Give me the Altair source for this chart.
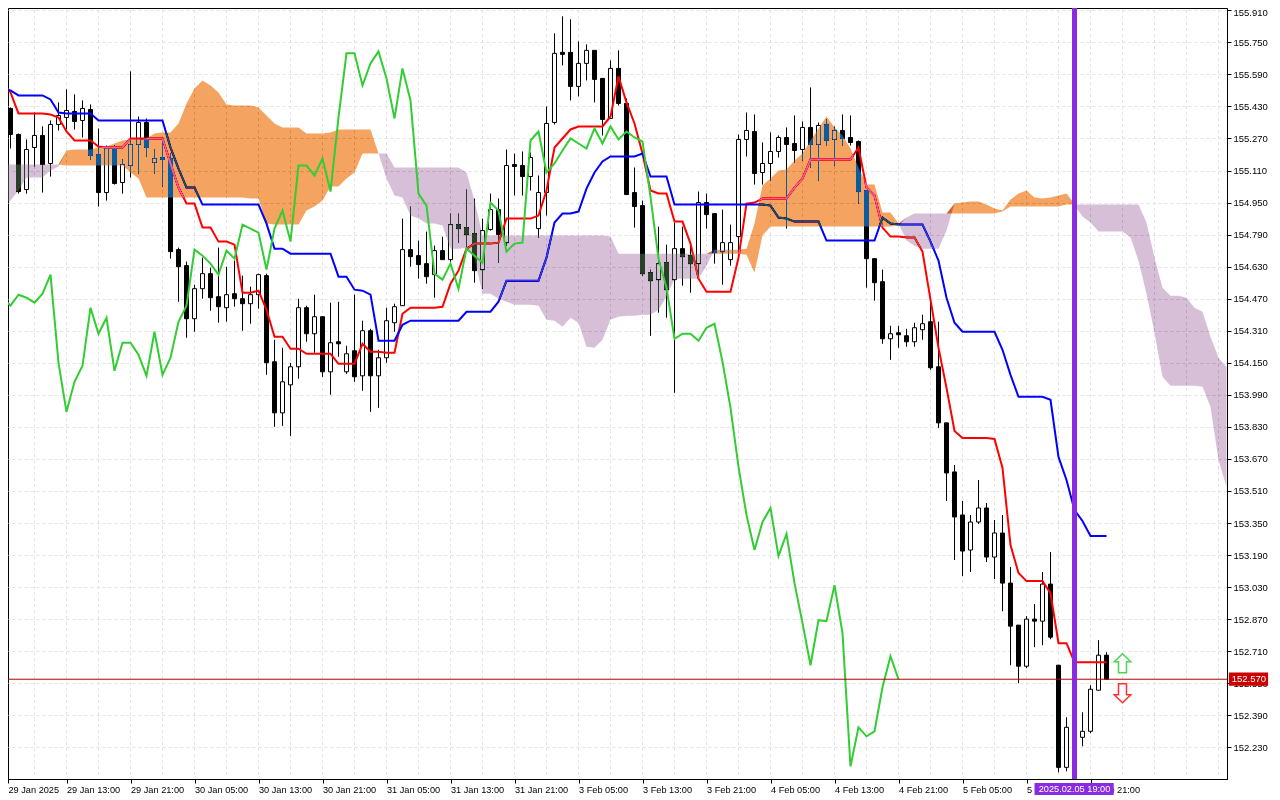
import json
import altair as alt
import pandas as pd

opens = [155.62,155.42,155.29,155.015,155.225,155.285,155.145,155.34,155.375,155.405,155.36,155.415,155.19,155.00,155.22,155.05,155.135,155.24,155.35,155.15,155.175,155.17,154.715,154.635,154.37,154.52,154.595,154.48,154.425,154.495,154.47,154.445,154.49,154.585,154.155,153.90,154.04,154.13,154.425,154.295,154.38,154.105,154.255,154.105,154.21,154.085,154.31,154.085,154.175,154.35,154.435,154.715,154.685,154.645,154.59,154.71,154.665,154.84,154.825,154.795,154.615,154.815,154.915,154.75,155.14,155.135,155.08,154.82,155.00,155.35,155.70,155.70,155.53,155.645,155.71,155.57,155.37,155.62,155.445,155.00,154.935,154.60,154.565,154.65,154.565,154.72,154.685,154.645,154.95,154.895,154.705,154.665,154.78,155.265,155.305,155.10,155.145,155.205,155.275,155.245,155.215,155.325,155.24,155.34,155.265,155.31,155.275,155.255,155.01,154.67,154.555,154.27,154.30,154.285,154.255,154.315,154.355,154.13,153.85,153.605,153.39,153.215,153.355,153.425,153.18,153.30,153.05,152.84,152.635,152.87,152.86,153.045,152.64,152.13,152.28,152.28,152.31,152.515,152.69]
highs = [155.62,155.425,155.295,155.265,155.40,155.33,155.36,155.45,155.515,155.49,155.46,155.44,155.32,155.235,155.235,155.165,155.605,155.38,155.37,155.215,155.26,155.195,154.725,154.655,154.54,154.675,154.625,154.725,154.63,154.66,154.585,154.53,154.595,154.595,154.265,154.225,154.15,154.47,154.435,154.49,154.38,154.45,154.455,154.235,154.49,154.36,154.32,154.215,154.425,154.445,154.87,154.93,154.76,154.805,154.735,154.78,154.895,154.895,155.015,154.97,154.87,154.995,154.97,155.215,155.195,155.205,155.20,155.085,155.43,155.795,155.88,155.865,155.755,155.74,155.71,155.57,155.66,155.71,155.47,155.125,154.96,154.615,154.83,154.74,154.85,154.83,154.74,155.005,154.995,154.895,154.915,154.84,155.29,155.40,155.39,155.25,155.30,155.285,155.325,155.385,155.355,155.525,155.35,155.365,155.33,155.39,155.385,155.26,155.01,154.67,154.615,154.335,154.335,154.32,154.35,154.39,154.46,154.355,153.85,153.64,153.46,153.39,153.565,153.45,153.365,153.39,153.13,152.84,152.885,152.945,153.105,153.205,152.64,152.38,152.355,152.405,152.54,152.765,152.705]
lows = [155.41,155.22,154.995,154.995,155.13,155.00,155.08,155.31,155.315,155.315,155.275,155.165,154.93,154.96,155.04,154.995,155.075,155.095,155.18,155.095,155.03,154.67,154.455,154.275,154.305,154.47,154.41,154.35,154.355,154.43,154.31,154.345,154.42,154.09,153.83,153.835,153.785,154.07,154.255,154.20,154.08,153.99,154.18,154.095,154.055,154.01,153.905,153.925,154.15,154.305,154.435,154.63,154.57,154.545,154.475,154.665,154.65,154.75,154.72,154.55,154.52,154.81,154.65,154.735,154.985,154.985,155.01,154.775,154.885,155.34,155.635,155.46,155.48,155.56,155.45,155.285,155.37,155.435,154.99,154.825,154.585,154.285,154.40,154.375,154.00,154.535,154.50,154.575,154.82,154.645,154.54,154.635,154.71,155.18,155.04,155.04,155.06,155.175,154.82,155.15,155.16,155.125,155.06,155.235,155.135,155.235,155.235,154.945,154.525,154.46,154.245,154.165,154.225,154.23,154.23,154.265,154.115,153.825,153.46,153.165,153.085,153.105,153.345,153.155,153.07,152.91,152.64,152.55,152.625,152.73,152.74,152.77,152.105,152.11,152.24,152.235,152.30,152.515,152.57]
closes = [155.42,155.29,155.005,155.215,155.285,155.14,155.34,155.385,155.41,155.355,155.42,155.185,155.00,155.22,155.045,155.14,155.24,155.35,155.225,155.17,155.165,154.705,154.63,154.37,154.52,154.595,154.475,154.43,154.49,154.47,154.445,154.49,154.59,154.15,153.90,154.055,154.13,154.425,154.295,154.38,154.105,154.25,154.245,154.195,154.08,154.31,154.085,154.175,154.36,154.43,154.715,154.68,154.64,154.58,154.71,154.665,154.84,154.82,154.79,154.61,154.81,154.915,154.79,155.135,155.13,155.08,155.175,155.00,155.345,155.695,155.69,155.53,155.645,155.71,155.565,155.365,155.62,155.445,154.99,154.93,154.595,154.56,154.645,154.515,154.72,154.68,154.645,154.95,154.89,154.70,154.75,154.75,155.265,155.31,155.095,155.145,155.205,155.275,155.24,155.21,155.325,155.24,155.335,155.26,155.31,155.27,155.25,155.005,154.67,154.55,154.27,154.295,154.29,154.255,154.325,154.345,154.125,153.85,153.60,153.38,153.21,153.355,153.425,153.18,153.30,153.05,152.835,152.635,152.87,152.86,153.045,152.78,152.13,152.33,152.33,152.31,152.52,152.69,152.57]

tenkan = [155.545,155.50,155.395,155.395,155.395,155.395,155.39,155.375,155.305,155.26,155.26,155.26,155.23,155.225,155.225,155.225,155.27,155.27,155.27,155.27,155.27,155.145,155.025,154.945,154.945,154.825,154.825,154.755,154.755,154.74,154.50,154.50,154.51,154.415,154.28,154.28,154.22,154.22,154.195,154.195,154.195,154.195,154.145,154.145,154.145,154.245,154.205,154.205,154.20,154.20,154.395,154.425,154.425,154.425,154.425,154.43,154.545,154.61,154.72,154.745,154.745,154.745,154.75,154.87,154.87,154.87,154.87,154.885,155.01,155.225,155.27,155.315,155.33,155.33,155.33,155.33,155.38,155.58,155.45,155.345,155.195,155.01,154.995,154.995,154.855,154.855,154.745,154.57,154.505,154.505,154.505,154.505,154.675,154.945,154.95,154.97,154.97,154.97,154.97,155.025,155.07,155.165,155.165,155.165,155.165,155.165,155.165,155.225,155.025,154.985,154.825,154.78,154.78,154.775,154.775,154.705,154.465,154.225,154.025,153.81,153.775,153.775,153.775,153.775,153.77,153.625,153.24,153.10,153.06,153.06,153.06,153.00,152.75,152.75,152.655,152.655,152.655,152.655,152.655]
kijun = [155.515,155.51,155.485,155.485,155.485,155.485,155.465,155.40,155.395,155.395,155.395,155.395,155.36,155.36,155.36,155.36,155.36,155.36,155.36,155.36,155.36,155.225,155.12,155.025,155.025,154.94,154.94,154.94,154.94,154.94,154.94,154.94,154.94,154.845,154.72,154.72,154.695,154.695,154.695,154.695,154.695,154.695,154.58,154.58,154.515,154.51,154.49,154.26,154.26,154.26,154.34,154.36,154.36,154.36,154.36,154.36,154.36,154.36,154.405,154.405,154.405,154.405,154.455,154.56,154.56,154.56,154.56,154.56,154.675,154.85,154.895,154.895,154.905,155.02,155.10,155.155,155.18,155.18,155.18,155.18,155.195,155.08,155.08,155.08,154.94,154.94,154.94,154.94,154.94,154.94,154.94,154.94,154.94,154.94,154.94,154.94,154.935,154.875,154.87,154.855,154.855,154.855,154.855,154.76,154.76,154.76,154.76,154.76,154.76,154.76,154.875,154.845,154.84,154.84,154.84,154.84,154.755,154.66,154.475,154.35,154.305,154.305,154.305,154.305,154.305,154.215,154.09,153.98,153.98,153.98,153.98,153.965,153.68,153.565,153.415,153.36,153.285,153.285,153.285]
chikou = [154.475,154.435,154.49,154.475,154.45,154.495,154.59,154.15,153.905,154.055,154.135,154.425,154.295,154.375,154.11,154.25,154.25,154.19,154.085,154.305,154.09,154.175,154.355,154.435,154.715,154.685,154.645,154.59,154.71,154.67,154.84,154.82,154.80,154.615,154.82,154.91,154.755,155.135,155.135,155.085,155.17,155.005,155.375,155.695,155.695,155.535,155.645,155.705,155.57,155.37,155.62,155.46,154.995,154.935,154.595,154.565,154.645,154.52,154.72,154.685,154.65,154.95,154.91,154.705,154.745,154.75,155.26,155.305,155.10,155.145,155.21,155.27,155.245,155.22,155.32,155.245,155.33,155.265,155.305,155.275,155.255,154.98,154.67,154.525,154.27,154.295,154.295,154.26,154.325,154.345,154.155,153.925,153.63,153.39,153.215,153.355,153.425,153.185,153.295,153.05,152.85,152.64,152.865,152.86,153.04,152.80,152.135,152.33,152.285,152.31,152.53,152.685,152.57]

span_a = [154.94,154.96,155.01,155.075,155.075,155.075,155.11,155.13,155.21,155.215,155.215,155.215,155.225,155.23,155.245,155.26,155.265,155.265,155.27,155.295,155.30,155.30,155.345,155.445,155.52,155.56,155.535,155.50,155.44,155.435,155.435,155.435,155.425,155.385,155.345,155.325,155.325,155.325,155.295,155.295,155.295,155.30,155.315,155.315,155.315,155.315,155.315,155.195,155.07,154.985,154.975,154.885,154.87,154.845,154.845,154.835,154.72,154.72,154.725,154.67,154.495,154.495,154.47,154.455,154.44,154.44,154.44,154.435,154.365,154.36,154.33,154.375,154.35,154.23,154.225,154.265,154.365,154.38,154.385,154.385,154.39,154.39,154.415,154.48,154.57,154.57,154.57,154.57,154.635,154.715,154.715,154.715,154.715,154.72,154.845,155.035,155.07,155.11,155.115,155.16,155.195,155.26,155.32,155.38,155.325,155.285,155.22,155.125,155.04,155.04,154.90,154.90,154.845,154.76,154.735,154.72,154.72,154.72,154.81,154.945,154.95,154.955,154.955,154.94,154.92,154.91,154.965,154.995,155.01,154.975,154.97,154.975,154.985,154.995,154.935,154.88,154.85,154.805,154.805,154.805,154.805,154.775,154.66,154.495,154.30,154.08,154.035,154.035,154.035,154.035,154.03,153.93,153.665,153.53]
span_b = [155.14,155.14,155.14,155.14,155.14,155.14,155.14,155.14,155.135,155.135,155.135,155.135,155.135,155.135,155.135,155.135,155.10,155.07,154.975,154.975,154.975,154.975,154.975,154.975,154.975,154.975,154.975,154.975,154.975,154.975,154.975,154.97,154.97,154.845,154.84,154.84,154.84,154.84,154.91,154.93,154.96,155.03,155.03,155.07,155.10,155.195,155.195,155.195,155.195,155.125,155.125,155.125,155.125,155.125,155.125,155.125,155.125,155.125,155.10,154.96,154.785,154.785,154.785,154.785,154.785,154.785,154.785,154.785,154.785,154.785,154.785,154.785,154.785,154.785,154.785,154.785,154.78,154.695,154.695,154.695,154.695,154.695,154.695,154.695,154.695,154.695,154.695,154.695,154.695,154.695,154.695,154.695,154.695,154.69,154.60,154.785,154.83,154.83,154.83,154.83,154.83,154.83,154.83,154.83,154.83,154.83,154.83,154.83,154.83,154.83,154.83,154.83,154.835,154.875,154.895,154.895,154.895,154.895,154.895,154.895,154.895,154.895,154.895,154.895,154.895,154.905,154.93,154.93,154.93,154.93,154.93,154.93,154.93,154.94,154.94,154.94,154.94,154.94,154.94,154.94,154.94,154.94,154.94,154.85,154.675,154.525,154.485,154.485,154.475,154.425,154.405,154.28,154.175,154.13]

price_ticks = [155.91,155.75,155.59,155.43,155.27,155.11,154.95,154.79,154.63,154.47,154.31,154.15,153.99,153.83,153.67,153.51,153.35,153.19,153.03,152.87,152.71,152.55,152.39,152.23]
time_labels = ["29 Jan 2025","29 Jan 13:00","29 Jan 21:00","30 Jan 05:00","30 Jan 13:00","30 Jan 21:00","31 Jan 05:00","31 Jan 13:00","31 Jan 21:00","3 Feb 05:00","3 Feb 13:00","3 Feb 21:00","4 Feb 05:00","4 Feb 13:00","4 Feb 21:00","5 Feb 05:00","5 Feb 13:00","5 Feb 21:00"]
last_price = 152.57
marker_bar = 134
marker_label = "2025.02.05 19:00"

FONT = "Liberation Sans"
x_domain = [0.6875, 153.0625]
y_domain = [152.0718, 155.9215]
xs = alt.Scale(domain=x_domain, nice=False, zero=False, padding=0)
ys = alt.Scale(domain=y_domain, nice=False, zero=False, padding=0)

x_values = [x_domain[0]] + [8 * i for i in range(1, len(time_labels))]
x_axis = alt.Axis(values=x_values, grid=False, title=None, tickSize=4, tickColor="black",
                  domainColor="black", labelAlign="left", labelBaseline="top", labelPadding=2,
                  labelFont=FONT, labelFontSize=9.2, labelColor="black", labelOverlap=False,
                  labelFlush=False, labelBound=False,
                  labelExpr=json.dumps(time_labels) + "[round(datum.value/8)]")
y_axis = alt.Axis(values=price_ticks, orient="right", grid=True, gridColor="#e3e3e3",
                  gridDash=[3, 3], gridWidth=1, title=None, tickSize=4, tickColor="black",
                  domainColor="black", labelPadding=2, format=".3f", labelFont=FONT,
                  labelFontSize=9.5, labelColor="black", labelOverlap=False, labelFlush=False,
                  labelBound=False,
                  labelOffset={"condition": {"test": "datum.value > 155.9", "value": 2}, "value": 0})
X = alt.X("k:Q", scale=xs, axis=x_axis)
Y = alt.Y("v:Q", scale=ys, axis=y_axis)

n = len(opens)
candles = pd.DataFrame({"k": range(n), "o": opens, "h": highs, "l": lows, "c": closes})
candles["top"] = candles[["o", "c"]].max(axis=1)
candles["bot"] = candles[["o", "c"]].min(axis=1)
up = candles[candles.c > candles.o]
down = candles[candles.c <= candles.o]


def series(vals):
    return pd.DataFrame({"k": range(len(vals)), "v": vals})


cloud = pd.DataFrame({"k": range(len(span_a)), "a": span_a, "b": span_b})
cloud["v"] = cloud[["a", "b"]].max(axis=1)

vgrid = alt.Chart(pd.DataFrame({"k": list(range(4, 154, 4))})).mark_rule(
    color="#e3e3e3", strokeDash=[3, 3], strokeWidth=1).encode(x=X, y=alt.value(2), y2=alt.value(769))
wicks = alt.Chart(candles).mark_rule(color="black", strokeWidth=1).encode(
    x=X, y=alt.Y("h:Q", scale=ys, axis=y_axis), y2="l:Q")
body_up = alt.Chart(up).mark_bar(size=4, fill="white", stroke="black", strokeWidth=1, orient="vertical").encode(
    x=X, y=alt.Y("top:Q", scale=ys, axis=y_axis), y2="bot:Q")
body_down = alt.Chart(down).mark_bar(size=4, fill="black", stroke="black", strokeWidth=1, orient="vertical").encode(
    x=X, y=alt.Y("top:Q", scale=ys, axis=y_axis), y2="bot:Q")
red = alt.Chart(series(tenkan)).mark_line(color="#ff0000", strokeWidth=2).encode(x=X, y=Y)
blue = alt.Chart(series(kijun)).mark_line(color="#0000ff", strokeWidth=2).encode(x=X, y=Y)
cloud_up = alt.Chart(cloud).mark_area(color="#0b5b9f", blend="difference", opacity=1).encode(x=X, y=Y, y2="b:Q")
cloud_down = alt.Chart(cloud).mark_area(color="#274027", blend="difference", opacity=1).encode(x=X, y=Y, y2="a:Q")
green = alt.Chart(series(chikou)).mark_line(color="#32cd32", strokeWidth=2).encode(x=X, y=Y)

price_line = alt.Chart(pd.DataFrame({"v": [last_price]})).mark_rule(color="#b00000", strokeWidth=1).encode(y=Y)
marker_line = alt.Chart(pd.DataFrame({"k": [marker_bar]})).mark_rule(color="#8a2be2", strokeWidth=5).encode(x=X)

up_path = "M0,-1L0.87,-0.15L0.42,-0.15L0.42,1L-0.42,1L-0.42,-0.15L-0.87,-0.15Z"
down_path = "M0,1L0.87,0.15L0.42,0.15L0.42,-1L-0.42,-1L-0.42,0.15L-0.87,0.15Z"
arrow_up = alt.Chart(pd.DataFrame({"k": [140], "v": [152.65]})).mark_point(
    shape=up_path, size=361, filled=True, fill="white", stroke="#4fd44f", strokeWidth=1.5, opacity=1).encode(x=X, y=Y)
arrow_down = alt.Chart(pd.DataFrame({"k": [140], "v": [152.50]})).mark_point(
    shape=down_path, size=361, filled=True, fill="white", stroke="#ff3030", strokeWidth=1.5, opacity=1).encode(x=X, y=Y)

price_tag = alt.Chart(pd.DataFrame({"k": [153.3], "k2": [158.2], "v": [152.603], "v2": [152.537]})).mark_rect(
    color="#cc0000").encode(x=X, x2="k2:Q", y=Y, y2="v2:Q")
price_text = alt.Chart(pd.DataFrame({"k": [153.65], "v": [last_price], "t": ["152.570"]})).mark_text(
    color="white", align="left", baseline="middle", font=FONT, fontSize=9.5).encode(x=X, y=Y, text="t:N")
time_tag = alt.Chart(pd.DataFrame({"k": [129.0], "k2": [138.9], "v": [152.052], "v2": [151.992]})).mark_rect(
    color="#8a2be2").encode(x=X, x2="k2:Q", y=Y, y2="v2:Q")
time_text = alt.Chart(pd.DataFrame({"k": [134], "v": [152.022], "t": [marker_label]})).mark_text(
    color="white", align="center", baseline="middle", font=FONT, fontSize=9.2).encode(x=X, y=Y, text="t:N")

chart = alt.layer(
    vgrid, wicks, body_up, body_down, red, blue, cloud_up, cloud_down, green,
    price_line, marker_line, arrow_up, arrow_down, price_tag, price_text, time_tag, time_text,
).properties(
    width=1219, height=771, background="white",
    autosize=alt.AutoSizeParams(type="none"),
    padding={"left": 0, "top": 0, "right": 42, "bottom": 17},
).configure_view(stroke="black", strokeWidth=1)

chart.save("out.html", embed_options={"renderer": "svg", "actions": False})
